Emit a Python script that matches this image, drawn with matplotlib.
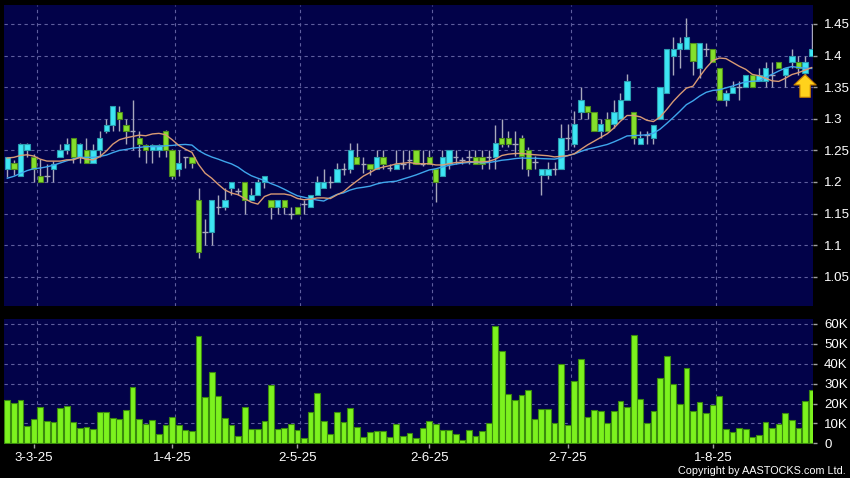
import matplotlib
matplotlib.use('Agg')
import matplotlib.pyplot as plt
import numpy as np
import pandas as pd

# ---------------- data ----------------
opens = [1.221, 1.230, 1.210, 1.250, 1.239, 1.209, 1.210, 1.220, 1.239, 1.250,
         1.270, 1.239, 1.250, 1.230, 1.250, 1.280, 1.290, 1.311, 1.290, 1.281,
         1.270, 1.259, 1.250, 1.250, 1.280, 1.250, 1.221, 1.240, 1.240, 1.171,
         1.121, 1.121, 1.161, 1.161, 1.191, 1.185, 1.200, 1.171, 1.180, 1.200,
         1.171, 1.161, 1.171, 1.150, 1.161, 1.165, 1.161, 1.180, 1.191, 1.200,
         1.200, 1.220, 1.220, 1.239, 1.229, 1.229, 1.220, 1.239, 1.222, 1.220,
         1.229, 1.234, 1.250, 1.229, 1.239, 1.220, 1.210, 1.229, 1.239, 1.234,
         1.239, 1.239, 1.239, 1.239, 1.239, 1.270, 1.270, 1.260, 1.270, 1.250,
         1.231, 1.211, 1.211, 1.221, 1.221, 1.270, 1.260, 1.310, 1.321, 1.310,
         1.280, 1.300, 1.291, 1.300, 1.330, 1.310, 1.260, 1.275, 1.270, 1.300,
         1.341, 1.400, 1.410, 1.410, 1.420, 1.380, 1.410, 1.410, 1.380, 1.330,
         1.341, 1.350, 1.350, 1.370, 1.360, 1.360, 1.370, 1.390, 1.370, 1.390,
         1.390, 1.372, 1.400]
highs = [1.240, 1.235, 1.262, 1.262, 1.245, 1.236, 1.228, 1.233, 1.260, 1.270,
         1.270, 1.262, 1.270, 1.260, 1.281, 1.300, 1.320, 1.320, 1.300, 1.330,
         1.280, 1.260, 1.260, 1.260, 1.282, 1.252, 1.250, 1.240, 1.240, 1.191,
         1.141, 1.171, 1.180, 1.191, 1.200, 1.191, 1.200, 1.191, 1.205, 1.210,
         1.171, 1.171, 1.171, 1.161, 1.161, 1.171, 1.180, 1.210, 1.221, 1.210,
         1.230, 1.230, 1.261, 1.261, 1.239, 1.229, 1.250, 1.250, 1.229, 1.250,
         1.250, 1.250, 1.250, 1.250, 1.250, 1.220, 1.250, 1.250, 1.250, 1.239,
         1.250, 1.250, 1.250, 1.250, 1.290, 1.300, 1.280, 1.280, 1.275, 1.255,
         1.241, 1.221, 1.231, 1.231, 1.291, 1.291, 1.312, 1.351, 1.321, 1.310,
         1.300, 1.310, 1.330, 1.341, 1.371, 1.310, 1.280, 1.280, 1.290, 1.350,
         1.410, 1.430, 1.430, 1.459, 1.420, 1.420, 1.420, 1.410, 1.380, 1.345,
         1.360, 1.360, 1.370, 1.370, 1.380, 1.390, 1.390, 1.390, 1.380, 1.410,
         1.400, 1.400, 1.450]
lows = [1.208, 1.211, 1.209, 1.240, 1.200, 1.200, 1.200, 1.200, 1.239, 1.245,
        1.230, 1.230, 1.230, 1.230, 1.240, 1.278, 1.280, 1.280, 1.260, 1.251,
        1.240, 1.230, 1.230, 1.240, 1.240, 1.205, 1.210, 1.222, 1.222, 1.080,
        1.101, 1.101, 1.150, 1.155, 1.180, 1.180, 1.150, 1.171, 1.180, 1.191,
        1.141, 1.150, 1.150, 1.141, 1.150, 1.150, 1.161, 1.180, 1.191, 1.191,
        1.200, 1.211, 1.215, 1.229, 1.215, 1.211, 1.220, 1.220, 1.218, 1.220,
        1.220, 1.220, 1.229, 1.225, 1.229, 1.169, 1.210, 1.220, 1.229, 1.229,
        1.229, 1.229, 1.220, 1.220, 1.220, 1.255, 1.255, 1.241, 1.220, 1.209,
        1.220, 1.180, 1.205, 1.211, 1.221, 1.251, 1.255, 1.300, 1.300, 1.280,
        1.270, 1.280, 1.285, 1.300, 1.330, 1.260, 1.260, 1.260, 1.260, 1.300,
        1.341, 1.370, 1.380, 1.410, 1.370, 1.365, 1.400, 1.390, 1.330, 1.320,
        1.341, 1.330, 1.350, 1.350, 1.360, 1.350, 1.350, 1.380, 1.350, 1.380,
        1.370, 1.370, 1.400]
closes = [1.239, 1.221, 1.260, 1.260, 1.221, 1.200, 1.210, 1.229, 1.250, 1.260,
          1.239, 1.260, 1.230, 1.250, 1.270, 1.290, 1.320, 1.300, 1.280, 1.281,
          1.260, 1.250, 1.259, 1.259, 1.250, 1.210, 1.230, 1.240, 1.230, 1.090,
          1.121, 1.171, 1.161, 1.171, 1.200, 1.185, 1.171, 1.180, 1.200, 1.210,
          1.161, 1.171, 1.161, 1.150, 1.150, 1.165, 1.180, 1.200, 1.200, 1.200,
          1.220, 1.220, 1.250, 1.229, 1.229, 1.220, 1.239, 1.229, 1.222, 1.229,
          1.229, 1.234, 1.229, 1.229, 1.229, 1.200, 1.239, 1.250, 1.239, 1.234,
          1.239, 1.229, 1.229, 1.239, 1.261, 1.260, 1.260, 1.260, 1.241, 1.221,
          1.231, 1.221, 1.221, 1.221, 1.270, 1.270, 1.291, 1.330, 1.310, 1.280,
          1.291, 1.280, 1.310, 1.330, 1.360, 1.270, 1.270, 1.275, 1.290, 1.350,
          1.410, 1.410, 1.420, 1.430, 1.391, 1.420, 1.410, 1.390, 1.330, 1.341,
          1.350, 1.350, 1.370, 1.350, 1.370, 1.380, 1.370, 1.380, 1.380, 1.400,
          1.380, 1.390, 1.410]
# closes before the visible window (only feed the moving averages at the left edge)
prior_closes = [1.16, 1.17, 1.17, 1.16, 1.18, 1.17, 1.18, 1.18, 1.19, 1.18,
                1.21, 1.23, 1.25, 1.24, 1.25, 1.24, 1.23, 1.25, 1.24]
volume_k = [21.7, 20.3, 21.7, 8.8, 12, 18.5, 11.2, 10.8, 17.8, 18.7,
            10.8, 7.8, 8.2, 7, 15.7, 15.7, 12.8, 12.3, 16.7, 28.3,
            12.2, 9.8, 11.7, 4.8, 9, 13.2, 9.3, 6.5, 6.2, 54,
            23.3, 35.7, 23.7, 12.5, 9, 3.8, 18.2, 7.2, 7.2, 11,
            29.3, 7.2, 7.8, 9.7,
            6.7, 2.5, 15.7, 25.2, 11.3, 4.5, 15.7, 10.8, 18, 8.2,
            3, 5.8, 6.2, 6.2, 3, 9.7, 3.7, 5, 2.7, 7.8,
            11.2, 9.7, 6.7, 6.7, 4.5, 1.8, 6.7, 3.5, 6.3, 10,
            59.2, 46.2, 25, 21.7, 24.5, 26.7, 12.3, 17, 17.3, 10,
            39.7, 9.3,
            31.2, 42.5, 13.3, 16.7, 16.3, 10.2, 16.2, 21.3, 18.2, 54.7,
            22.3, 10.2, 16.2, 33, 43.8, 29.7, 19.8, 37.7, 16.2, 21,
            15.2, 19.5, 23.8, 7, 5.5, 7.7, 7.2, 3.2, 4, 10.7,
            7.7, 9.7, 15, 11.5, 7.7, 21.2, 27]
date_labels = ['3-3-25', '1-4-25', '2-5-25', '2-6-25', '2-7-25', '1-8-25']
date_index = [4, 25, 44, 64, 85, 107]
price_ticks = [1.05, 1.10, 1.15, 1.20, 1.25, 1.30, 1.35, 1.40, 1.45]
volume_ticks = [0, 10, 20, 30, 40, 50, 60]

# ---------------- style ----------------
BG = '#020249'
GRID = '#5e5e9e'
CYAN, CYAN_E = '#3de6f4', '#2a9db0'
GREEN, GREEN_E = '#84e02c', '#4f8d1c'
WICK = '#a8a8bc'
VOL, VOL_E = '#7cf21e', '#3a8a0e'
MA10_C, MA20_C = '#d89a74', '#3fa6ec'
FONT = 'Liberation Sans'

W, H = 850, 478
fig = plt.figure(figsize=(W / 100, H / 100), dpi=100, facecolor='black')


def px_axes(l, t, r, b):
    return fig.add_axes([l / W, 1 - b / H, (r - l) / W, (b - t) / H])


axp = px_axes(4, 5, 813, 306)
axv = px_axes(4, 319, 813, 444)

o = np.array(opens); h = np.array(highs); l = np.array(lows); c = np.array(closes)
n = len(c)
x = np.arange(n)
up = c > o
dn = c < o
fl = c == o

for ax in (axp, axv):
    ax.set_facecolor(BG)
    for s in ax.spines.values():
        s.set_visible(False)
    ax.set_xlim(-0.5, n - 0.8)
    for t in date_index:
        ax.axvline(t + 0.45, color=GRID, lw=0.8, ls=(0, (3, 3)), zorder=1)

# price panel
axp.set_ylim(1.0038, 1.480)
for p in price_ticks:
    axp.axhline(p, color=GRID, lw=0.8, ls=(0, (3, 3)), zorder=1)
axp.vlines(x, l, h, color=WICK, lw=1, zorder=2)
axp.bar(x[up], (c - o)[up], bottom=o[up], width=0.8, color=CYAN,
        edgecolor=CYAN_E, lw=0.8, zorder=3)
axp.bar(x[dn], (o - c)[dn], bottom=c[dn], width=0.8, color=GREEN,
        edgecolor=GREEN_E, lw=0.8, zorder=3)
axp.hlines(c[fl], x[fl] - 0.42, x[fl] + 0.42, color=WICK, lw=1, zorder=3)

allc = pd.Series(prior_closes + closes)
k = len(prior_closes)
ma10 = allc.rolling(10).mean().iloc[k:].to_numpy()
ma20 = allc.rolling(20).mean().iloc[k:].to_numpy()
axp.plot(x, ma20, color=MA20_C, lw=1, zorder=4)
axp.plot(x, ma10, color=MA10_C, lw=1, zorder=4)

axp.annotate('', xy=(n - 2, l[n - 2]), xytext=(n - 2, l[n - 2] - 0.036),
             arrowprops=dict(arrowstyle='simple,head_length=0.75,head_width=1.6,tail_width=0.75',
                             fc='#ffd21c', ec='#c07800', lw=0.8, mutation_scale=10,
                             shrinkA=0, shrinkB=0), zorder=6)

axp.yaxis.tick_right()
axp.set_yticks(price_ticks, [f'{p:g}' for p in price_ticks])
axp.tick_params(axis='y', length=3, width=1, color='#a0a0a0', labelcolor='white',
                labelsize=9.5, pad=5)
axp.tick_params(axis='x', bottom=False, labelbottom=False)
for lab in axp.get_yticklabels():
    lab.set_fontfamily(FONT)

# volume panel
axv.set_ylim(-0.35, 62.5)
for v in volume_ticks[1:]:
    axv.axhline(v, color=GRID, lw=0.8, ls=(0, (3, 3)), zorder=1)
axv.bar(x, volume_k, width=0.88, color=VOL, edgecolor=VOL_E, lw=0.8, zorder=3)
axv.yaxis.tick_right()
axv.set_yticks(volume_ticks, ['0' if v == 0 else f'{v}K' for v in volume_ticks])
axv.tick_params(axis='y', length=3, width=1, color='#a0a0a0', labelcolor='white',
                labelsize=9.5, pad=5)
axv.set_xticks(date_index, date_labels)
axv.tick_params(axis='x', length=3, width=1, color='#a0a0a0', labelcolor='white',
                labelsize=9.5, pad=3)
for lab in axv.get_yticklabels() + axv.get_xticklabels():
    lab.set_fontfamily(FONT)

fig.text(846 / W, 1 - 471 / H, 'Copyright by AASTOCKS.com Ltd.', color='white',
         ha='right', va='center', fontsize=7.8, family=FONT)

fig.savefig('out.png', dpi=100, facecolor='black')
